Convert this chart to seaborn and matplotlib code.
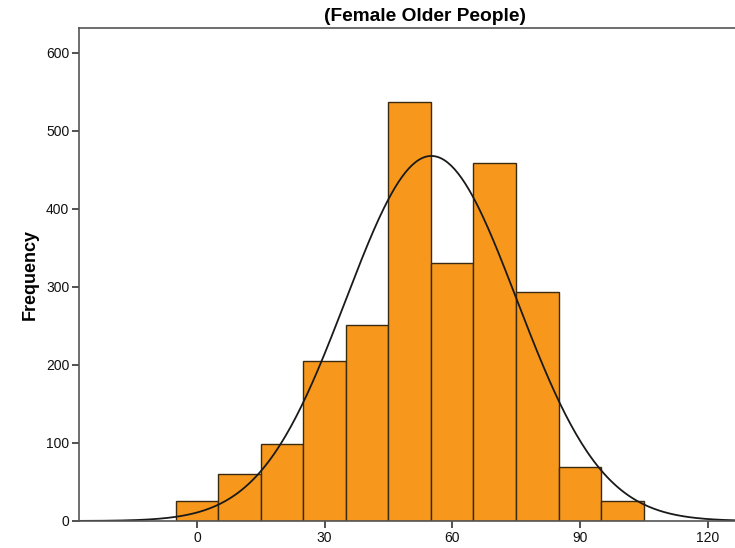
import numpy as np
import pandas as pd
import seaborn as sns
import matplotlib.pyplot as plt

# Histogram counts (bins of width 10)
bin_lefts = [-5, 5, 15, 25, 35, 45, 55, 65, 75, 85, 95]
counts = [26, 60, 99, 205, 251, 537, 331, 459, 293, 69, 25]
bin_width = 10
title = "(Female Older People)"
y_label = "Frequency"
x_ticks = [0, 30, 60, 90, 120]
y_ticks = [0, 100, 200, 300, 400, 500, 600]

sns.set_style("white")
plt.rcParams["font.family"] = ["Liberation Sans", "DejaVu Sans"]

df = pd.DataFrame({"center": np.array(bin_lefts) + bin_width / 2, "count": counts})

fig = plt.figure(figsize=(7.35, 5.48), dpi=100)
ax = fig.add_axes([0.1075, 0.0493, 0.913, 0.8996])

sns.histplot(
    data=df,
    x="center",
    weights="count",
    binwidth=bin_width,
    binrange=(bin_lefts[0], bin_lefts[-1] + bin_width),
    color="#F7981D",
    alpha=1.0,
    edgecolor="#3a2a10",
    linewidth=1.0,
    ax=ax,
)

# Normal curve fitted to the binned data
n = sum(counts)
mean = np.average(df["center"], weights=df["count"])
sd = np.sqrt(np.average((df["center"] - mean) ** 2, weights=df["count"]))
xs = np.linspace(-30, 135, 400)
ys = n * bin_width / (sd * np.sqrt(2 * np.pi)) * np.exp(-0.5 * ((xs - mean) / sd) ** 2)
sns.lineplot(x=xs, y=ys, color="#1a1a1a", linewidth=1.3, ax=ax)

ax.set_xlim(-27.7, 130)
ax.set_ylim(0, 632)
ax.set_xticks(x_ticks)
ax.set_yticks(y_ticks)
ax.tick_params(axis="both", direction="out", length=5, width=1.2, color="#333333",
               bottom=True, left=True, labelsize=10, labelcolor="#111111", pad=2)
ax.set_xlabel("")
ax.set_ylabel(y_label, fontsize=13, fontweight="bold", labelpad=5, color="black")
ax.set_title(title, fontsize=13.8, fontweight="bold", pad=5, color="black", x=0.515)
for s in ax.spines.values():
    s.set_color("#555555")
    s.set_linewidth(1.2)

fig.savefig("out.png", dpi=100)
